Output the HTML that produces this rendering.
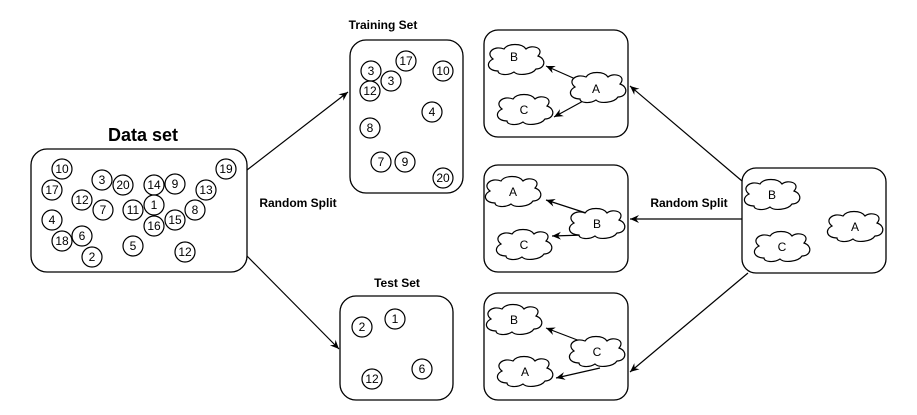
<!DOCTYPE html>
<html><head><meta charset="utf-8"><style>
html,body{margin:0;padding:0;background:#fff;}
svg{display:block;}
text{font-family:"Liberation Sans",sans-serif;fill:#000;}
.n{font-size:12px;text-anchor:middle;dominant-baseline:central;}
.b{font-weight:bold;text-anchor:middle;}
</style></head><body>
<svg width="917" height="415" viewBox="0 0 917 415" xmlns="http://www.w3.org/2000/svg">
<defs>
<marker id="ar" markerWidth="10" markerHeight="10" refX="9" refY="5" orient="auto" markerUnits="userSpaceOnUse">
<path d="M0,1 L9,5 L0,9 L3,5 Z" fill="#000"/>
</marker>
<path id="cl" d="M-18,11 C-28,11 -31,3 -23,-1 C-31,-7 -22,-15 -12,-11 C-8,-17 6,-17 10,-11 C16,-16 29,-12 22,-4 C31,-1 29,9 20,9 C16,15 2,16 -2,12 C-8,16 -18,15 -18,11 Z" fill="#fff" stroke="#000" stroke-width="1.2"/>
</defs>
<g fill="#fff" stroke="#000" stroke-width="1.3">
<rect x="31" y="149" width="216" height="123" rx="16"/>
<rect x="350" y="40" width="113" height="153" rx="16"/>
<rect x="340" y="296" width="113" height="104" rx="16"/>
<rect x="484" y="30" width="144" height="107" rx="14"/>
<rect x="484" y="165" width="144" height="107" rx="14"/>
<rect x="484" y="293" width="144" height="107" rx="14"/>
<rect x="742" y="168" width="144" height="105" rx="14"/>
</g>
<text class="b" x="143" y="141" font-size="18">Data set</text>
<text class="b" x="383" y="29" font-size="12">Training Set</text>
<text class="b" x="397" y="287" font-size="12">Test Set</text>
<text class="b" x="298" y="207" font-size="12">Random Split</text>
<text class="b" x="689" y="207" font-size="12">Random Split</text>
<g stroke="#000" stroke-width="1.2" fill="none" marker-end="url(#ar)">
<line x1="247" y1="170" x2="348" y2="92"/>
<line x1="247" y1="256" x2="339" y2="349"/>
<line x1="742" y1="181" x2="630" y2="86"/>
<line x1="742" y1="219" x2="630" y2="219"/>
<line x1="748" y1="273" x2="630" y2="372"/>
<line x1="580" y1="81" x2="546" y2="66"/>
<line x1="585" y1="100" x2="554" y2="117"/>
<line x1="586" y1="213" x2="546" y2="200"/>
<line x1="585" y1="235" x2="552" y2="236"/>
<line x1="580" y1="341" x2="546" y2="328"/>
<line x1="600" y1="368" x2="556" y2="378"/>
</g>
<g fill="#fff" stroke="#000" stroke-width="1.2">
<circle cx="62" cy="169" r="10"/><circle cx="52" cy="190" r="10"/><circle cx="102" cy="180" r="10"/><circle cx="123" cy="185" r="10"/><circle cx="154" cy="185" r="10"/><circle cx="175" cy="184" r="10"/><circle cx="226" cy="169" r="10"/><circle cx="206" cy="190" r="10"/><circle cx="82" cy="200" r="10"/><circle cx="103" cy="210" r="10"/><circle cx="133" cy="210" r="10"/><circle cx="154" cy="205" r="10"/><circle cx="195" cy="210" r="10"/><circle cx="175" cy="220" r="10"/><circle cx="154" cy="226" r="10"/><circle cx="52" cy="220" r="10"/><circle cx="82" cy="236" r="10"/><circle cx="62" cy="241" r="10"/><circle cx="133" cy="246" r="10"/><circle cx="185" cy="252" r="10"/><circle cx="92" cy="257" r="10"/>
<circle cx="406" cy="61" r="10"/><circle cx="371" cy="71" r="10"/><circle cx="391" cy="81" r="10"/><circle cx="443" cy="71" r="10"/><circle cx="370" cy="91" r="10"/><circle cx="432" cy="112" r="10"/><circle cx="370" cy="128" r="10"/><circle cx="381" cy="162" r="10"/><circle cx="405" cy="162" r="10"/><circle cx="443" cy="178" r="10"/>
<circle cx="362" cy="327" r="10"/><circle cx="395" cy="319" r="10"/><circle cx="372" cy="379" r="10"/><circle cx="422" cy="369" r="10"/>
</g>
<g class="n">
<text class="n" x="62" y="169">10</text><text class="n" x="52" y="190">17</text><text class="n" x="102" y="180">3</text><text class="n" x="123" y="185">20</text><text class="n" x="154" y="185">14</text><text class="n" x="175" y="184">9</text><text class="n" x="226" y="169">19</text><text class="n" x="206" y="190">13</text><text class="n" x="82" y="200">12</text><text class="n" x="103" y="210">7</text><text class="n" x="133" y="210">11</text><text class="n" x="154" y="205">1</text><text class="n" x="195" y="210">8</text><text class="n" x="175" y="220">15</text><text class="n" x="154" y="226">16</text><text class="n" x="52" y="220">4</text><text class="n" x="82" y="236">6</text><text class="n" x="62" y="241">18</text><text class="n" x="133" y="246">5</text><text class="n" x="185" y="252">12</text><text class="n" x="92" y="257">2</text>
<text class="n" x="406" y="61">17</text><text class="n" x="371" y="71">3</text><text class="n" x="391" y="81">3</text><text class="n" x="443" y="71">10</text><text class="n" x="370" y="91">12</text><text class="n" x="432" y="112">4</text><text class="n" x="370" y="128">8</text><text class="n" x="381" y="162">7</text><text class="n" x="405" y="162">9</text><text class="n" x="443" y="178">20</text>
<text class="n" x="362" y="327">2</text><text class="n" x="395" y="319">1</text><text class="n" x="372" y="379">12</text><text class="n" x="422" y="369">6</text>
</g>
<use href="#cl" x="516" y="60"/><use href="#cl" x="598" y="88"/><use href="#cl" x="525" y="110"/>
<use href="#cl" x="513" y="192"/><use href="#cl" x="597" y="224"/><use href="#cl" x="524" y="245"/>
<use href="#cl" x="514" y="320"/><use href="#cl" x="597" y="352"/><use href="#cl" x="525" y="372"/>
<use href="#cl" x="772" y="195"/><use href="#cl" x="855" y="227"/><use href="#cl" x="782" y="247"/>
<text class="n" x="514" y="57">B</text><text class="n" x="596" y="89">A</text><text class="n" x="524" y="110">C</text>
<text class="n" x="513" y="192">A</text><text class="n" x="597" y="224">B</text><text class="n" x="524" y="245">C</text>
<text class="n" x="514" y="320">B</text><text class="n" x="597" y="352">C</text><text class="n" x="525" y="372">A</text>
<text class="n" x="772" y="195">B</text><text class="n" x="855" y="227">A</text><text class="n" x="782" y="247">C</text>
</svg>
</body></html>
